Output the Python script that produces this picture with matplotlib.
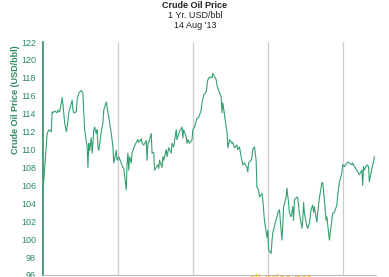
import matplotlib
matplotlib.use("Agg")
import matplotlib.pyplot as plt

plt.rcParams["font.family"] = ["Liberation Sans", "DejaVu Sans"]

# Trading day offsets (calendar days from start of window) and crude price (USD/bbl)
days = [0, 1, 2, 5, 7, 10, 11, 12, 14, 17, 18, 20, 22, 23, 24, 26, 28, 29, 31, 35,
        36, 37, 40, 41, 43, 46, 48, 49, 50, 53, 54, 55, 56, 58, 59, 60, 61, 62, 64, 65,
        66, 67, 70, 72, 73, 76, 77, 79, 82, 84, 85, 88, 89, 91, 94, 96, 97, 100, 101, 102,
        103, 104, 106, 107, 109, 112, 114, 115, 118, 119, 121, 124, 125, 126, 127, 130, 131, 133, 134, 136,
        138, 139, 140, 143, 144, 145, 148, 149, 151, 154, 155, 157, 160, 161, 162, 164, 167, 168, 169, 172,
        173, 174, 176, 179, 180, 182, 185, 187, 190, 191, 193, 196, 197, 198, 200, 203, 204, 205, 208, 209,
        211, 214, 215, 216, 218, 220, 221, 222, 224, 227, 228, 230, 233, 234, 236, 238, 239, 240, 242, 245,
        246, 247, 250, 251, 252, 254, 256, 257, 259, 260, 263, 264, 266, 269, 270, 271, 274, 275, 276, 278,
        281, 282, 284, 287, 288, 289, 292, 293, 295, 296, 298, 300, 301, 302, 305, 306, 308, 311, 312, 313,
        314, 317, 318, 320, 322, 324, 325, 326, 329, 330, 332, 335, 336, 338, 340, 341, 343, 344, 346, 347,
        348, 350, 353, 354, 356, 359, 360, 362, 365, 366, 368, 371, 372, 374, 377, 378, 380, 383, 384, 385,
        386, 389, 391, 392, 394, 396, 397, 398]

prices = [105.5, 106.6, 107.9, 111.8, 112.2, 112.0, 114.2, 114.1, 114.3, 114.1, 114.4, 114.2, 115.2, 115.8, 115.0, 113.0, 112.0, 112.5, 114.1, 115.5,
          114.4, 114.1, 114.2, 115.5, 116.3, 116.6, 116.3, 114.1, 112.2, 110.3, 108.0, 110.7, 109.9, 111.3, 109.6, 110.7, 112.2, 112.5, 111.8, 112.2,
          110.3, 109.9, 112.0, 113.0, 114.4, 115.3, 114.7, 113.6, 111.8, 110.3, 108.5, 109.9, 108.8, 109.2, 108.5, 108.0, 107.9, 105.5, 108.5, 109.6,
          107.7, 109.2, 108.5, 109.6, 110.2, 110.8, 111.1, 110.8, 111.2, 110.7, 110.5, 111.0, 108.8, 110.7, 110.8, 111.8, 109.6, 109.7, 107.7, 108.0,
          108.3, 107.9, 108.8, 108.0, 109.2, 108.8, 110.0, 109.2, 110.2, 109.6, 110.7, 110.3, 112.2, 111.1, 111.4, 112.0, 112.5, 111.3, 112.2, 111.4,
          110.7, 111.1, 110.7, 111.1, 112.2, 112.5, 113.5, 113.6, 114.4, 115.2, 116.1, 116.4, 117.2, 117.8, 118.1, 118.0, 118.5, 118.3, 117.8, 117.2,
          116.6, 115.9, 114.1, 115.2, 113.9, 112.5, 112.0, 110.2, 111.1, 110.7, 110.8, 110.2, 110.5, 110.0, 110.3, 109.2, 108.8, 108.3, 108.5, 108.0,
          107.5, 108.5, 108.8, 109.2, 110.0, 110.3, 108.8, 105.8, 105.5, 104.7, 105.1, 104.4, 102.1, 100.2, 101.0, 98.8, 98.4, 99.7, 100.7, 101.4,
          102.5, 102.9, 103.3, 99.9, 101.4, 103.6, 104.7, 105.7, 104.0, 102.9, 102.5, 103.6, 102.1, 104.4, 104.7, 104.6, 102.9, 101.2, 102.1, 104.1,
          102.9, 101.4, 101.2, 101.8, 103.3, 103.8, 103.0, 103.6, 101.9, 103.0, 104.6, 106.3, 106.3, 104.4, 102.1, 102.5, 100.7, 99.9, 101.4, 102.1,
          102.9, 103.0, 103.8, 104.9, 106.3, 107.4, 108.3, 108.1, 108.5, 108.6, 108.5, 108.3, 108.5, 108.1, 107.7, 107.5, 107.2, 107.7, 106.0, 108.1,
          107.7, 108.3, 108.1, 106.4, 107.4, 108.3, 108.6, 109.2]

y_ticks = [96, 98, 100, 102, 104, 106, 108, 110, 112, 114, 116, 118, 120, 122]
y_grid = [102, 104, 106, 108, 112, 114, 116, 118]
x_grid = [90, 180, 270, 360]

title = "Crude Oil Price"
subtitle = "1 Yr. USD/bbl"
date_label = "14 Aug '13"
y_label = "Crude Oil Price (USD/bbl)"

GREEN = "#2e8b62"
LINE = "#34a070"
GRID = "#cccccc"

fig = plt.figure(figsize=(3.89, 2.77), dpi=100)
ax = fig.add_axes([43 / 389, 1 - 275 / 277, (376 - 43) / 389, (275 - 42) / 277])

ax.plot(days, prices, color=LINE, linewidth=0.8, zorder=3)

ax.set_xlim(0, 400)
ax.set_ylim(96, 122)
ax.set_yticks(y_ticks)
ax.set_yticklabels([str(v) for v in y_ticks], fontsize=6.5, color=GREEN)
ax.set_yticks(y_grid, minor=True)
ax.set_xticks(x_grid)
ax.set_xticklabels([])
ax.tick_params(axis="x", length=0)
ax.tick_params(axis="y", which="major", length=0, pad=5)
ax.tick_params(axis="y", which="minor", length=3, width=0.8, color=GREEN)

ax.grid(True, axis="x", color=GRID, linewidth=0.9, zorder=0)
ax.grid(True, axis="y", which="minor", color=GRID, linewidth=0.9, zorder=0)
ax.grid(False, axis="y", which="major")
for s in ["top", "right"]:
    ax.spines[s].set_visible(False)
ax.spines["left"].set_color(GREEN)
ax.spines["left"].set_linewidth(1.2)
ax.spines["bottom"].set_color("#bbbbbb")

fig.text(195 / 389, 1 - 6 / 277, title, ha="center", va="center", fontsize=6.5,
         fontweight="bold", color="#222222")
fig.text(195 / 389, 1 - 15.5 / 277, subtitle, ha="center", va="center", fontsize=6.5,
         color="#222222")
fig.text(195 / 389, 1 - 25 / 277, date_label, ha="center", va="center", fontsize=6.5,
         color="#222222")
fig.text(16 / 389, 1 - 100 / 277, y_label, ha="center", va="center", rotation=90,
         fontsize=6.5, fontweight="bold", color=GREEN)
fig.text(280 / 389, 1 - 279 / 277, "oil-price.net", ha="center", va="center", fontsize=8,
         fontweight="bold", color="#f2c230", zorder=0)

fig.savefig("out.png", dpi=100)
